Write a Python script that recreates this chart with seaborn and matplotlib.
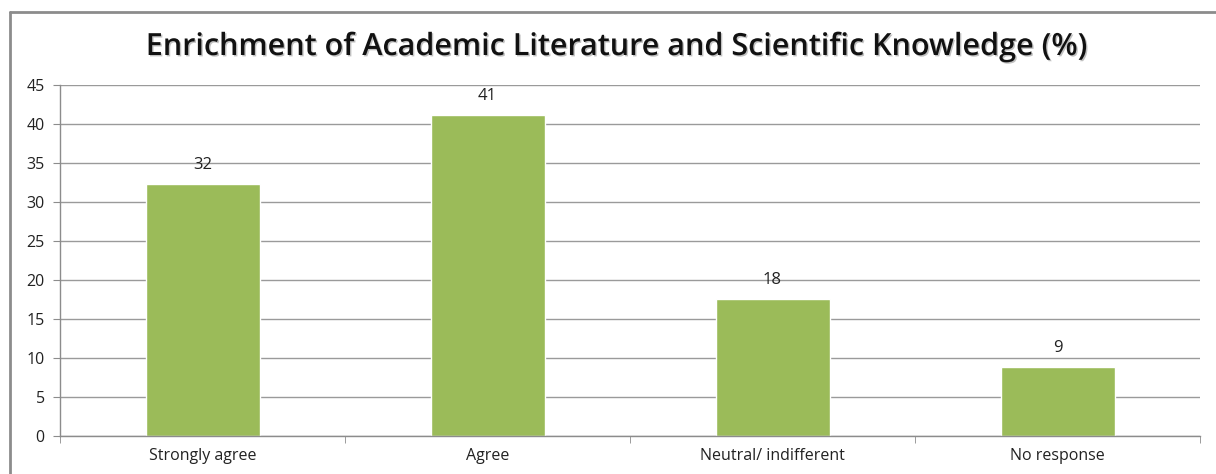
import pandas as pd
import seaborn as sns
import matplotlib.pyplot as plt
from matplotlib.lines import Line2D
import matplotlib.patheffects as pe

# data
categories = ['Strongly agree', 'Agree', 'Neutral/ indifferent', 'No response']
percent = [32.3, 41.2, 17.6, 8.8]
value_labels = ['32', '41', '18', '9']

df = pd.DataFrame({'category': categories, 'percent': percent})

sns.set_style('white')
plt.rcParams['font.family'] = ['Open Sans', 'DejaVu Sans']

fig = plt.figure(figsize=(12.16, 4.74), dpi=100)
ax = fig.add_axes([60 / 1216, 38 / 474, 1140 / 1216, 351 / 474])

sns.barplot(data=df, x='category', y='percent', color='#9BBB59',
            width=0.4, saturation=1, ax=ax)

ax.bar_label(ax.containers[0], labels=value_labels, padding=8,
             fontsize=12, color='#222222')

ax.set_ylim(0, 45)
ax.set_yticks(range(0, 46, 5))
ax.set_xlim(-0.5, 3.5)
ax.yaxis.grid(True, color='#9a9a9a', linewidth=1)
ax.set_axisbelow(True)
ax.set_xlabel('')
ax.set_ylabel('')

for side in ['top', 'right']:
    ax.spines[side].set_visible(False)
for side in ['left', 'bottom']:
    ax.spines[side].set_color('#8c8c8c')
    ax.spines[side].set_linewidth(1)

ax.tick_params(axis='y', length=5, color='#8c8c8c', labelsize=11.5,
               labelcolor='#222222', pad=6, left=True)
ax.tick_params(axis='x', which='major', length=0, labelsize=11.5,
               labelcolor='#222222', pad=9)
ax.set_xticks([-0.5, 0.5, 1.5, 2.5, 3.5], minor=True)
ax.tick_params(axis='x', which='minor', length=5, color='#8c8c8c',
               bottom=True)

fig.text(615 / 1216, 1 - 47 / 474,
         'Enrichment of Academic Literature and Scientific Knowledge (%)',
         ha='center', va='center', fontsize=22, fontweight='semibold',
         color='#111111',
         path_effects=[pe.withSimplePatchShadow(offset=(1, -1),
                                                shadow_rgbFace='#999999',
                                                alpha=0.6)])

# chart frame
fig.add_artist(Line2D([10 / 1216, 10 / 1216], [0, 1 - 12 / 474],
                      color='#8c8c8c', linewidth=2, transform=fig.transFigure))
fig.add_artist(Line2D([10 / 1216, 1], [1 - 12 / 474, 1 - 12 / 474],
                      color='#8c8c8c', linewidth=2, transform=fig.transFigure))

fig.savefig('out.png', dpi=100)
